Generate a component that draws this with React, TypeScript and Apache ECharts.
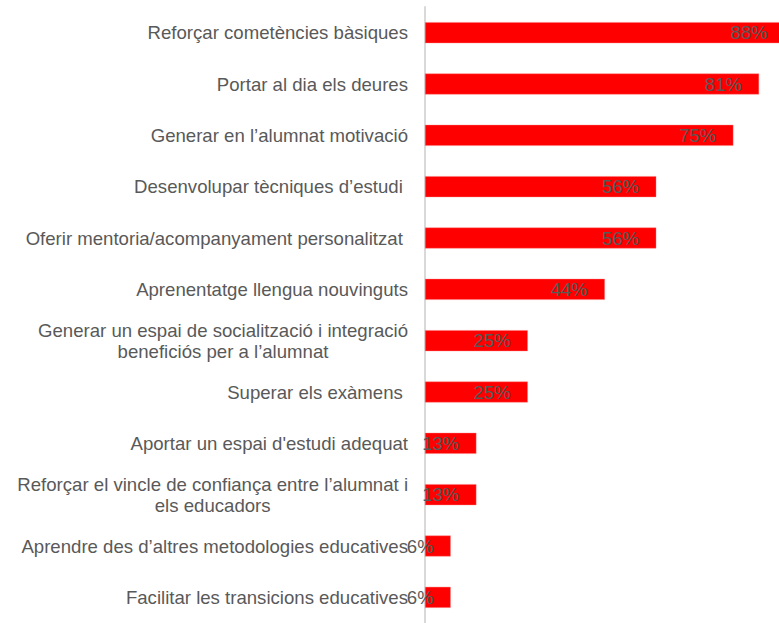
import React, { useEffect, useRef } from "react";
import * as echarts from "echarts";

const categories: string[] = [
  "Reforçar cometències bàsiques",
  "Portar al dia els deures",
  "Generar en l’alumnat motivació",
  "Desenvolupar tècniques d’estudi ",
  "Oferir mentoria/acompanyament personalitzat ",
  "Aprenentatge llengua nouvinguts",
  "Generar un espai de socialització i integració\nbeneficiós per a l’alumnat",
  "Superar els exàmens ",
  "Aportar un espai d'estudi adequat",
  "Reforçar el vincle de confiança entre l’alumnat i\nels educadors",
  "Aprendre des d’altres metodologies educatives",
  "Facilitar les transicions educatives",
];

const values: number[] = [87.5, 81.25, 75, 56.25, 56.25, 43.75, 25, 25, 12.5, 12.5, 6.25, 6.25];

const FONT = '"Liberation Sans", Arial, sans-serif';
const TEXT = "#595959";
const FS = 18.6;

export default function App() {
  const ref = useRef<HTMLDivElement>(null);
  useEffect(() => {
    document.body.style.margin = "0";
    if (!ref.current) return;
    const chart = echarts.init(ref.current, undefined, { renderer: "svg" });
    chart.setOption({
      animation: false,
      backgroundColor: "#ffffff",
      grid: { left: 425, top: 7, right: 0, bottom: -9 },
      xAxis: {
        type: "value",
        min: 0,
        max: 86.1,
        show: false,
      },
      yAxis: {
        type: "category",
        inverse: true,
        data: categories,
        axisLine: { show: true, lineStyle: { color: "#d9d9d9", width: 2 } },
        axisTick: { show: false },
        splitLine: { show: false },
        axisLabel: {
          margin: 17,
          color: TEXT,
          fontSize: FS,
          fontFamily: FONT,
          lineHeight: 21,
          formatter: (v: string) =>
            v
              .split("\n")
              .map((l) => `{c|${l}}`)
              .join("\n"),
          rich: {
            c: {
              align: "center",
              color: TEXT,
              fontSize: FS,
              fontFamily: FONT,
              lineHeight: 21,
            },
          },
        },
      },
      series: [
        {
          type: "bar",
          data: values,
          barWidth: 21,
          clip: false,
          itemStyle: { color: "#ff0000", borderColor: "rgba(255,120,120,0.8)", borderWidth: 0.5 },
          label: {
            show: true,
            position: "insideRight",
            distance: 17,
            color: TEXT,
            fontSize: FS,
            fontFamily: FONT,
            formatter: (p: any) => `${Math.round(p.value)}%`,
          },
          z: 3,
        },
      ],
    });
    return () => chart.dispose();
  }, []);
  return <div ref={ref} style={{ width: 779, height: 623 }} />;
}
